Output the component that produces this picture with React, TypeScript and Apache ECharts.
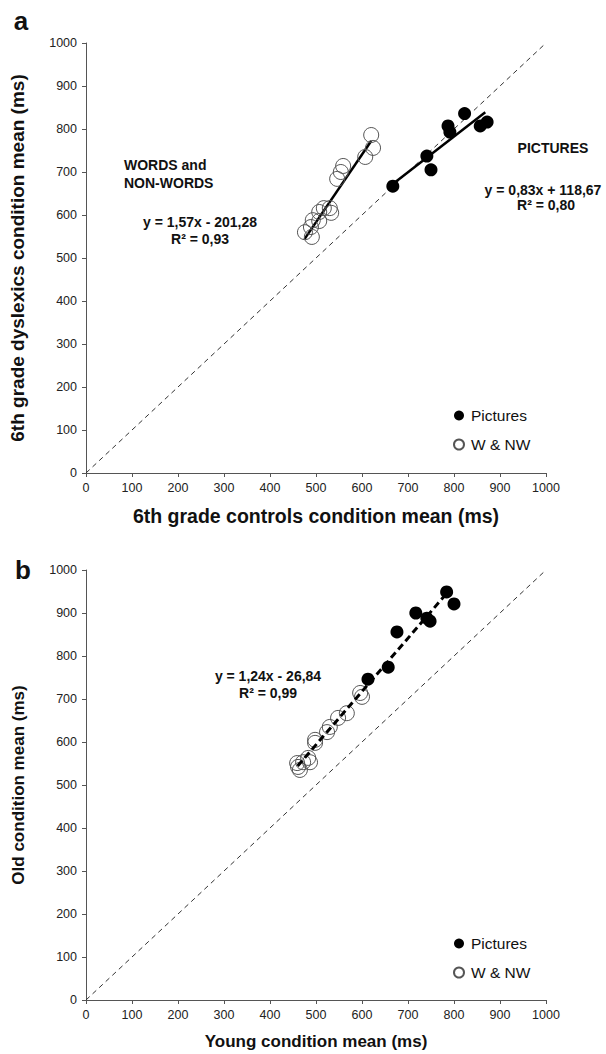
import React, { useEffect, useRef } from "react";
import * as echarts from "echarts";

// ---- Data ----
const axisTicks = [0, 100, 200, 300, 400, 500, 600, 700, 800, 900, 1000];

// Panel a: 6th grade controls (x) vs 6th grade dyslexics (y)
const picturesA: [number, number][] = [
  [667, 667], [741, 737], [750, 705], [787, 807], [791, 793], [823, 836], [857, 807], [872, 816],
];
const wordsA: [number, number][] = [
  [620, 786], [624, 756], [607, 735], [559, 714], [554, 700], [546, 684], [530, 616], [517, 616],
  [507, 607], [533, 605], [493, 588], [507, 586], [489, 572], [476, 560], [491, 549],
];
const trendPicturesA: [number, number][] = [[667, 672], [868, 839]];
const trendWordsA: [number, number][] = [[475, 544], [620, 772]];

// Panel b: young (x) vs old (y)
const picturesB: [number, number][] = [
  [784, 949], [800, 921], [717, 900], [741, 888], [748, 881], [676, 856], [657, 774], [613, 746],
];
const wordsB: [number, number][] = [
  [596, 714], [600, 705], [567, 667], [548, 656], [530, 635], [524, 623], [498, 605], [498, 598],
  [483, 563], [472, 553], [459, 551], [461, 542], [465, 535], [487, 553],
];
const trendB: [number, number][] = [[460, 544], [790, 953]];

const identityLine: [number, number][] = [[0, 0], [1000, 1000]];

const FONT = "'Liberation Sans', Arial, Helvetica, sans-serif";

function makeAxis(gridIndex: number, name: string, isY: boolean, titleSize: number) {
  return {
    type: "value",
    gridIndex,
    min: axisTicks[0],
    max: axisTicks[axisTicks.length - 1],
    interval: 100,
    name,
    nameLocation: "middle",
    nameGap: isY ? 59 : 33,
    nameRotate: isY ? 90 : 0,
    nameTextStyle: { fontFamily: FONT, fontSize: titleSize, fontWeight: "bold", color: "#111" },
    axisLine: { show: true, lineStyle: { color: "#555", width: 1 } },
    axisTick: { show: true, inside: false, length: 4, lineStyle: { color: "#555" } },
    axisLabel: {
      fontFamily: FONT,
      fontSize: 12.5,
      color: "#222",
      margin: isY ? 9 : 8,
      formatter: (v: number) => String(v),
    },
    splitLine: { show: false },
  };
}

function lineSeries(name: string, idx: number, data: [number, number][], style: any, z: number) {
  return {
    name,
    type: "line",
    xAxisIndex: idx,
    yAxisIndex: idx,
    data,
    symbol: "none",
    silent: true,
    z,
    lineStyle: style,
  };
}

function filledSeries(idx: number, data: [number, number][]) {
  return {
    name: "Pictures",
    type: "scatter",
    xAxisIndex: idx,
    yAxisIndex: idx,
    data,
    symbol: "circle",
    symbolSize: 13,
    z: 5,
    itemStyle: { color: "#000", opacity: 1 },
  };
}

function openSeries(idx: number, data: [number, number][]) {
  return {
    name: "W & NW",
    type: "scatter",
    xAxisIndex: idx,
    yAxisIndex: idx,
    data,
    symbol: "circle",
    symbolSize: 15,
    z: 4,
    itemStyle: { color: "rgba(255,255,255,0)", borderColor: "#555", borderWidth: 1, opacity: 1 },
  };
}

function legendAt(top: number) {
  return {
    orient: "vertical",
    left: 448,
    top,
    icon: "circle",
    itemWidth: 10,
    itemHeight: 10,
    itemGap: 12,
    selectedMode: false,
    data: ["Pictures", "W & NW"],
    textStyle: { fontFamily: FONT, fontSize: 15.5, color: "#111", lineHeight: 17, padding: [0, 0, 0, 2] },
  };
}

function txt(x: number, y: number, text: string, opts: any = {}) {
  return {
    type: "text",
    x,
    y,
    silent: true,
    style: {
      text,
      fontFamily: FONT,
      fontSize: opts.fontSize ?? 14,
      fontWeight: "bold",
      fill: "#111",
      textAlign: opts.align ?? "center",
      textVerticalAlign: "middle",
    },
  };
}

export default function App() {
  const ref = useRef<HTMLDivElement>(null);
  useEffect(() => {
    document.body.style.margin = "0";
    if (!ref.current) return;
    const chart = echarts.init(ref.current, undefined, { renderer: "svg" });
    const option: any = {
      animation: false,
      backgroundColor: "#fff",
      grid: [
        { left: 86, top: 43, width: 460, height: 430 },
        { left: 86, top: 570, width: 460, height: 430 },
      ],
      xAxis: [
        makeAxis(0, "6th grade controls condition mean (ms)", false, 19.5),
        makeAxis(1, "Young condition mean (ms)", false, 17),
      ],
      yAxis: [
        makeAxis(0, "6th grade dyslexics condition mean (ms)", true, 19),
        makeAxis(1, "Old condition mean (ms)", true, 17),
      ],
      legend: [legendAt(402), legendAt(930)],
      series: [
        lineSeries("identityA", 0, identityLine, { color: "#333", width: 1, type: [5, 4] }, 1),
        lineSeries("trendPicturesA", 0, trendPicturesA, { color: "#000", width: 2.5, type: "solid" }, 2),
        lineSeries("trendWordsA", 0, trendWordsA, { color: "#000", width: 2.5, type: "solid" }, 2),
        filledSeries(0, picturesA),
        openSeries(0, wordsA),
        lineSeries("identityB", 1, identityLine, { color: "#333", width: 1, type: [5, 4] }, 1),
        filledSeries(1, picturesB),
        openSeries(1, wordsB),
        lineSeries("trendB", 1, trendB, { color: "#000", width: 3, type: [7, 4] }, 6),
      ],
      graphic: [
        txt(21, 21, "a", { fontSize: 26 }),
        txt(23, 570, "b", { fontSize: 26 }),
        txt(124, 165, "WORDS and", { align: "left" }),
        txt(124, 183, "NON-WORDS", { align: "left" }),
        txt(200, 222, "y = 1,57x - 201,28"),
        txt(200, 239, "R² = 0,93"),
        txt(553, 148, "PICTURES"),
        txt(543, 190, "y = 0,83x + 118,67"),
        txt(546, 205, "R² = 0,80"),
        txt(268, 676, "y = 1,24x - 26,84"),
        txt(268, 693, "R² = 0,99"),
      ],
    };
    chart.setOption(option);
    return () => chart.dispose();
  }, []);
  return <div ref={ref} style={{ width: 606, height: 1054 }} />;
}
